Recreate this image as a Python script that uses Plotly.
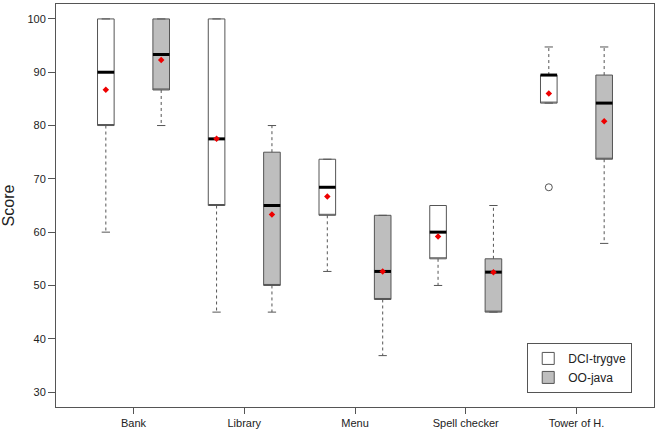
import plotly.graph_objects as go

categories = ["Bank", "Library", "Menu", "Spell checker", "Tower of H."]
groups = ["DCI-trygve", "OO-java"]

# DCI-trygve
dci_lower = [60, 45, 52.63, 50, 84.21]
dci_q1 = [80, 65, 63.16, 55, 84.21]
dci_median = [90, 77.5, 68.42, 60, 89.47]
dci_q3 = [100, 100, 73.68, 65, 89.47]
dci_upper = [100, 100, 73.68, 65, 94.74]
dci_mean = [86.7, 77.5, 66.7, 59.2, 86.0]
dci_outliers = [[], [], [], [], [68.42]]

# OO-java
oo_lower = [80, 45, 36.84, 45, 57.89]
oo_q1 = [86.67, 50, 47.37, 45, 73.68]
oo_median = [93.33, 65, 52.63, 52.5, 84.21]
oo_q3 = [100, 75, 63.16, 55, 89.47]
oo_upper = [100, 80, 63.16, 65, 94.74]
oo_mean = [92.3, 63.3, 52.6, 52.5, 80.8]
oo_outliers = [[], [], [], [], []]

fills = ["#FFFFFF", "#BEBEBE"]
BW = 0.3
edge = "#555555"

fig = go.Figure()

series = [
    (dci_lower, dci_q1, dci_median, dci_q3, dci_upper, dci_mean, dci_outliers),
    (oo_lower, oo_q1, oo_median, oo_q3, oo_upper, oo_mean, oo_outliers),
]

for gi, (lo, q1, med, q3, up, mean, outl) in enumerate(series):
    pos = [2 * i + 1 + gi for i in range(len(categories))]
    wx, wy, cx, cy, mx, my = [], [], [], [], [], []
    for p, a, b, c, d, m in zip(pos, lo, q1, q3, up, med):
        wx += [p, p, None, p, p, None]
        wy += [c, d, None, b, a, None]
        cx += [p - BW / 4, p + BW / 4, None, p - BW / 4, p + BW / 4, None]
        cy += [d, d, None, a, a, None]
        mx += [p - BW / 2, p + BW / 2, None]
        my += [m, m, None]
    fig.add_trace(go.Scatter(x=wx, y=wy, mode="lines", showlegend=False,
                             line=dict(color=edge, width=1, dash="3px,3px"),
                             hoverinfo="skip"))
    fig.add_trace(go.Scatter(x=cx, y=cy, mode="lines", showlegend=False,
                             line=dict(color=edge, width=1), hoverinfo="skip"))
    fig.add_trace(go.Box(
        name=groups[gi], x=pos, q1=q1, median=q1, q3=q3,
        lowerfence=q1, upperfence=q3, width=BW,
        fillcolor=fills[gi], line=dict(color=edge, width=1),
        whiskerwidth=0, boxpoints=False, showlegend=True,
    ))
    fig.add_trace(go.Scatter(x=mx, y=my, mode="lines", showlegend=False,
                             line=dict(color="black", width=3), hoverinfo="skip"))
    fig.add_trace(go.Scatter(x=pos, y=mean, mode="markers", showlegend=False,
                             marker=dict(symbol="diamond", color="#EE0000", size=5,
                                         line=dict(width=0))))
    ox, oy = [], []
    for p, vals in zip(pos, outl):
        for v in vals:
            ox.append(p)
            oy.append(v)
    if ox:
        fig.add_trace(go.Scatter(x=ox, y=oy, mode="markers", showlegend=False,
                                 marker=dict(symbol="circle-open", color=edge, size=7,
                                             line=dict(width=1))))

fig.update_layout(
    width=662, height=444,
    margin=dict(l=56, r=8, t=4, b=37),
    paper_bgcolor="white", plot_bgcolor="white",
    font=dict(family="Liberation Sans, Arial, sans-serif", color="#222222", size=11),
    boxmode="overlay",
    legend=dict(x=0.788, y=0.159, xanchor="left", yanchor="top",
                bordercolor=edge, borderwidth=1, bgcolor="white",
                font=dict(size=12), itemwidth=30, tracegroupgap=0),
)
fig.update_xaxes(
    range=[0.1, 10.9], tickvals=[2 * i + 1.5 for i in range(len(categories))],
    ticktext=categories, ticks="outside", ticklen=6, tickcolor=edge,
    showline=True, linecolor=edge, mirror=True, showgrid=False, zeroline=False,
    tickfont=dict(size=11),
)
fig.update_yaxes(
    range=[27.2, 102.8], tickvals=list(range(30, 101, 10)),
    ticks="outside", ticklen=7, tickcolor=edge,
    showline=True, linecolor=edge, mirror=True, showgrid=False, zeroline=False,
    title=dict(text="Score", font=dict(size=16), standoff=12),
    tickfont=dict(size=11),
)

fig.write_html("out.html")
